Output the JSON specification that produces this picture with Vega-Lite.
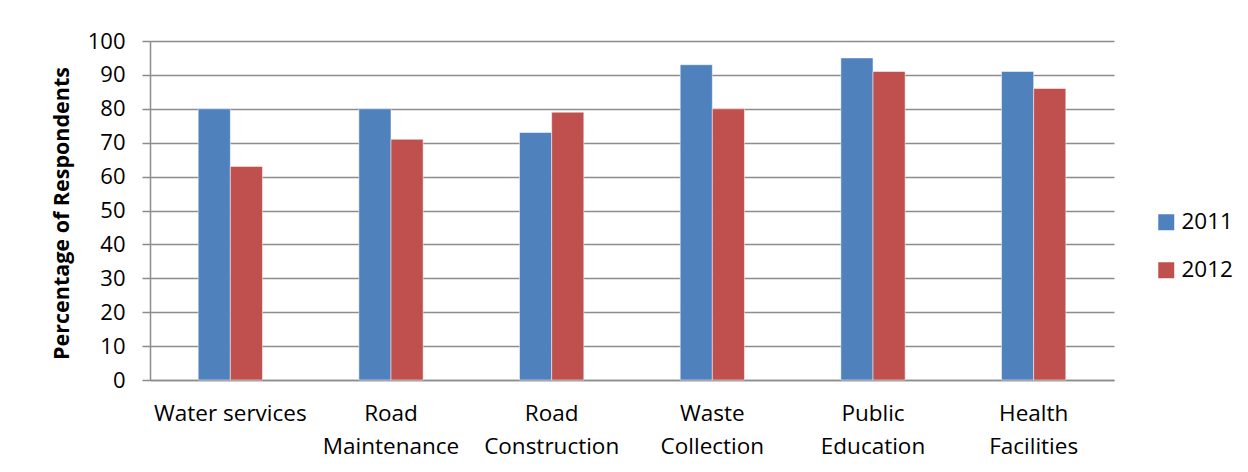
{
  "$schema": "https://vega.github.io/schema/vega-lite/v6.json",
  "autosize": {"type": "none"},
  "width": 964,
  "height": 339,
  "padding": {"left": 150, "top": 41, "right": 134, "bottom": 92},
  "background": "white",
  "config": {
    "font": "Open Sans",
    "view": {"stroke": null}
  },
  "data": {
    "values": [
      {"service": "Water services", "year": "2011", "percent": 80},
      {"service": "Water services", "year": "2012", "percent": 63},
      {"service": "Road Maintenance", "year": "2011", "percent": 80},
      {"service": "Road Maintenance", "year": "2012", "percent": 71},
      {"service": "Road Construction", "year": "2011", "percent": 73},
      {"service": "Road Construction", "year": "2012", "percent": 79},
      {"service": "Waste Collection", "year": "2011", "percent": 93},
      {"service": "Waste Collection", "year": "2012", "percent": 80},
      {"service": "Public Education", "year": "2011", "percent": 95},
      {"service": "Public Education", "year": "2012", "percent": 91},
      {"service": "Health Facilities", "year": "2011", "percent": 91},
      {"service": "Health Facilities", "year": "2012", "percent": 86}
    ]
  },
  "mark": {"type": "bar", "stroke": "white", "strokeWidth": 0.5},
  "encoding": {
    "x": {
      "field": "service",
      "type": "nominal",
      "sort": null,
      "scale": {"paddingInner": 0.6, "paddingOuter": 0.3},
      "axis": {
        "title": null,
        "labelAngle": 0,
        "labelFontSize": 22.5,
        "labelColor": "black",
        "labelPadding": 22,
        "labelLineHeight": 33,
        "labelBaseline": "top",
        "labelExpr": "datum.value == 'Water services' ? datum.value : split(datum.value, ' ')",
        "ticks": false,
        "domainColor": "#8c8c8c",
        "domainWidth": 1.5,
        "grid": false
      }
    },
    "xOffset": {"field": "year", "type": "nominal"},
    "y": {
      "field": "percent",
      "type": "quantitative",
      "scale": {"domain": [0, 100]},
      "axis": {
        "title": "Percentage of Respondents",
        "titleFontSize": 21.5,
        "titleFontWeight": "bold",
        "titleColor": "black",
        "titleX": -88,
        "titleY": 172,
        "titleAngle": -90,
        "titleAlign": "center",
        "titleBaseline": "middle",
        "values": [0, 10, 20, 30, 40, 50, 60, 70, 80, 90, 100],
        "labelFontSize": 22,
        "labelColor": "black",
        "labelPadding": 17,
        "tickSize": 8,
        "tickColor": "#8c8c8c",
        "tickWidth": 1.5,
        "domainColor": "#8c8c8c",
        "domainWidth": 1.5,
        "grid": true,
        "gridColor": "#8c8c8c",
        "gridWidth": 1.5
      }
    },
    "color": {
      "field": "year",
      "type": "nominal",
      "scale": {"domain": ["2011", "2012"], "range": ["#4F81BD", "#C0504D"]},
      "legend": {
        "title": null,
        "orient": "none",
        "legendX": 1005,
        "legendY": 170,
        "symbolType": "square",
        "symbolSize": 256,
        "symbolStrokeWidth": 0,
        "labelFontSize": 22.5,
        "labelColor": "black",
        "labelOffset": 4,
        "rowPadding": 25
      }
    }
  }
}
